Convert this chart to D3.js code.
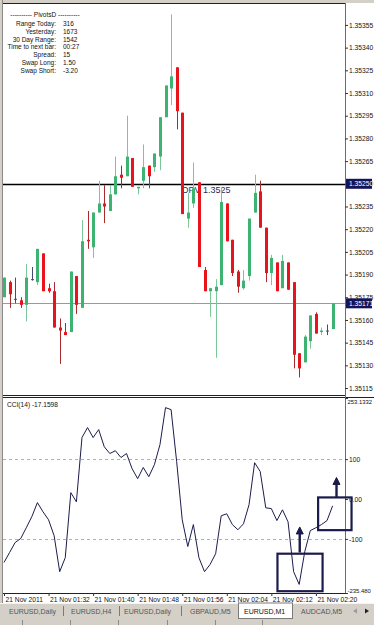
<!DOCTYPE html>
<html>
<head>
<meta charset="utf-8">
<title>EURUSD,M1</title>
<style>
  body { margin: 0; background: #d4d0c8; }
  svg { display: block; font-family: "Liberation Sans", Arial, sans-serif; }
  .axis path.domain { display: none; }
  .axis line { stroke: #333; }
  .axis text { fill: #111; }
</style>
<script src="https://d3js.org/d3.v7.min.js"></script>
</head>
<body>
<div id="chart"></div>
<script>
// EURUSD M1, 21 Nov 2011, one bar per minute from 01:24
const open = [1.35175,1.35185,1.35174,1.35173,1.35170,1.35187,1.35185,1.35204,1.35181,1.35179,
  1.35155,1.35152,1.35152,1.35189,1.35168,1.35213,1.35208,1.35231,1.35237,1.35232,
  1.35243,1.35256,1.35255,1.35267,1.35247,1.35252,1.35262,1.35261,1.35268,1.35294,
  1.35313,1.35327,1.35297,1.35227,1.35237,1.35251,1.35193,1.35179,1.35179,1.35183,
  1.35237,1.35213,1.35192,1.35181,1.35189,1.35231,1.35245,1.35221,1.35191,1.35198,
  1.35181,1.35198,1.35185,1.35138,1.35132,1.35146,1.35164,1.35152,1.35153,1.35154];
const high = [1.35188,1.35186,1.35188,1.35175,1.35197,1.35195,1.35207,1.35204,1.35184,1.35185,
  1.35161,1.35158,1.35192,1.35189,1.35226,1.35232,1.35231,1.35252,1.35249,1.35249,
  1.35268,1.35262,1.35295,1.35267,1.35248,1.35276,1.35262,1.35270,1.35294,1.35315,
  1.35362,1.35327,1.35297,1.35244,1.35264,1.35251,1.35195,1.35181,1.35187,1.35247,
  1.35237,1.35213,1.35193,1.35193,1.35227,1.35256,1.35252,1.35221,1.35203,1.35198,
  1.35203,1.35198,1.35185,1.35138,1.35150,1.35163,1.35165,1.35155,1.35157,1.35171];
const low = [1.35175,1.35168,1.35171,1.35168,1.35159,1.35186,1.35183,1.35179,1.35178,1.35155,
  1.35131,1.35150,1.35152,1.35164,1.35168,1.35207,1.35201,1.35231,1.35224,1.35232,
  1.35243,1.35247,1.35255,1.35248,1.35243,1.35247,1.35247,1.35258,1.35259,1.35294,
  1.35302,1.35286,1.35230,1.35221,1.35234,1.35195,1.35179,1.35162,1.35135,1.35183,
  1.35212,1.35189,1.35178,1.35180,1.35186,1.35231,1.35221,1.35185,1.35183,1.35179,
  1.35181,1.35180,1.35128,1.35122,1.35132,1.35141,1.35151,1.35150,1.35150,1.35154];
const close = [1.35188,1.35177,1.35174,1.35170,1.35188,1.35187,1.35207,1.35179,1.35179,1.35155,
  1.35153,1.35150,1.35192,1.35170,1.35212,1.35212,1.35231,1.35237,1.35235,1.35243,
  1.35255,1.35254,1.35268,1.35248,1.35248,1.35261,1.35255,1.35270,1.35294,1.35315,
  1.35321,1.35298,1.35230,1.35231,1.35247,1.35195,1.35179,1.35181,1.35182,1.35238,
  1.35212,1.35191,1.35182,1.35186,1.35227,1.35244,1.35221,1.35191,1.35201,1.35179,
  1.35199,1.35180,1.35137,1.35128,1.35149,1.35163,1.35151,1.35153,1.35153,1.35171];

const cci = [-159,-134,-109,-99,-72,-44,-9,-32,-52,-92,
  -182,-147,16,-7,154,179,154,174,131,114,
  121,104,114,76,51,79,56,86,136,229,
  224,94,-52,-119,-64,-147,-182,-164,-137,-42,
  -37,-64,-77,-62,-14,91,69,-22,-24,-54,
  -27,-57,-182,-214,-132,-79,-72,-64,-54,-17.1598];

const priceTicks = [1.35355,1.35340,1.35325,1.35310,1.35295,1.35280,1.35265,1.35250,1.35235,
  1.35220,1.35205,1.35190,1.35175,1.35160,1.35145,1.35130,1.35115];
const cciLevels = [100, -100];
const cciTicks = [253.1332, 100, 0, -100, -235.48];
const cciTickLabels = ["253.1332", "100", "0.00", "-100", "-235.480"];
const timeTickBars = [0, 8, 16, 24, 32, 40, 48, 56];
const timeLabels = ["21 Nov 2011","21 Nov 01:32","21 Nov 01:40","21 Nov 01:48",
  "21 Nov 01:56","21 Nov 02:04","21 Nov 02:12","21 Nov 02:20"];

const pivotLabels = ["Range  Today:","Yesterday:","30 Day Range:","Time to next bar:","Spread:","Swap  Long:","Swap  Short:"];
const pivotValues = ["316","1673","1542","00:27","15","1.50","-3.20"];
const dpv = 1.3525;
const bid = 1.35171;

const tabNames = ["EURUSD,Daily","EURUSD,H4","EURUSD,Daily","GBPAUD,M5","EURUSD,M1","AUDCAD,M5"];

const W = 374, H = 625;
const bull = "#3cb371", bear = "#e8141c", doji = "#4a4a70";
const ink = "#1c1c4c";

const svg = d3.select("#chart").append("svg").attr("width", W).attr("height", H);

// window frame
svg.append("rect").attr("width", W).attr("height", H).attr("fill", "#d4d0c8");
svg.append("rect").attr("x", 3).attr("y", 3).attr("width", 371).attr("height", 600).attr("fill", "#fff");
svg.append("line").attr("x1", 2.5).attr("x2", 2.5).attr("y1", 0).attr("y2", 603).attr("stroke", "#8a8a8a");

const x = d3.scaleLinear().domain([0, 59]).range([4, 332.6]);
const y = d3.scaleLinear().domain([1.351104, 1.353695]).range([395, 3]);
const yc = d3.scaleLinear().domain([-235.48, 253.1332]).range([593, 398]);

// panel borders
const frame = svg.append("g").attr("stroke", "#222").attr("fill", "none");
frame.append("line").attr("x1", 3).attr("x2", 345).attr("y1", 3.5).attr("y2", 3.5);
frame.append("line").attr("x1", 3).attr("x2", 345).attr("y1", 395.5).attr("y2", 395.5);
frame.append("line").attr("x1", 3).attr("x2", 374).attr("y1", 397.5).attr("y2", 397.5);
frame.append("line").attr("x1", 3).attr("x2", 345).attr("y1", 593.5).attr("y2", 593.5);
frame.append("line").attr("x1", 345.5).attr("x2", 345.5).attr("y1", 3).attr("y2", 594).attr("stroke", "#6a6a80");

// PivotsD info block
const info = svg.append("g").attr("font-size", 6.5).attr("fill", "#111");
info.append("text").attr("x", 45).attr("y", 17).attr("text-anchor", "middle")
  .text("---------- PivotsD ----------");
pivotLabels.forEach((t, i) => {
  info.append("text").attr("x", 56).attr("y", 26 + i * 7.8).attr("text-anchor", "end").text(t);
  info.append("text").attr("x", 63).attr("y", 26 + i * 7.8).text(pivotValues[i]);
});

// horizontal lines
svg.append("line").attr("x1", 3).attr("x2", 345).attr("y1", Math.round(y(bid)) + 0.5).attr("y2", Math.round(y(bid)) + 0.5)
  .attr("stroke", "#9a9a9a");
svg.append("line").attr("x1", 3).attr("x2", 345).attr("y1", Math.round(y(dpv)) + 0.5).attr("y2", Math.round(y(dpv)) + 0.5)
  .attr("stroke", "#000").attr("stroke-width", 1.3);
svg.append("text").attr("x", 182).attr("y", y(dpv) + 9).attr("font-size", 9).attr("fill", "#2a2a5a")
  .text("DPV  " + dpv.toFixed(4));

// candles
const bars = d3.range(open.length).map(i => ({ i, o: open[i], h: high[i], l: low[i], c: close[i] }));
const col = d => d.c > d.o ? bull : d.c < d.o ? bear : doji;
const wickCol = d => d.c > d.o ? "#7cc79a" : d.c < d.o ? "#a82a2a" : doji;

const candles = svg.append("g").selectAll("g").data(bars).join("g");
candles.append("line")
  .attr("x1", d => Math.round(x(d.i)) + 0.5).attr("x2", d => Math.round(x(d.i)) + 0.5)
  .attr("y1", d => y(d.h)).attr("y2", d => y(d.l))
  .attr("stroke", wickCol);
candles.append("rect")
  .attr("x", d => Math.round(x(d.i)) - 1)
  .attr("width", 3)
  .attr("y", d => y(Math.max(d.o, d.c)))
  .attr("height", d => Math.max(1, Math.abs(y(d.o) - y(d.c))))
  .attr("fill", col);

// price axis
svg.append("g").attr("class", "axis").attr("transform", "translate(345,0)")
  .call(d3.axisRight(y).tickValues(priceTicks).tickSize(3).tickPadding(1).tickFormat(d3.format(".5f")))
  .attr("font-size", 6.7).attr("font-family", null);

function priceBox(v) {
  const g = svg.append("g").attr("transform", `translate(346,${y(v)})`);
  g.append("rect").attr("x", 0).attr("y", -5).attr("width", 26).attr("height", 10).attr("fill", "#14145a");
  g.append("text").attr("x", 3).attr("y", 2.5).attr("font-size", 6.7).attr("fill", "#fff").text(v.toFixed(5));
}
priceBox(dpv);
priceBox(bid);

// CCI panel
svg.append("g").selectAll("line").data(cciLevels).join("line")
  .attr("x1", 3).attr("x2", 345)
  .attr("y1", d => Math.round(yc(d)) + 0.5).attr("y2", d => Math.round(yc(d)) + 0.5)
  .attr("stroke", "#b0b0b0").attr("stroke-dasharray", "3,3");

svg.append("path").datum(cci)
  .attr("fill", "none").attr("stroke", ink).attr("stroke-width", 1)
  .attr("d", d3.line().x((d, i) => x(i)).y(d => yc(d)));

svg.append("text").attr("x", 7).attr("y", 407).attr("font-size", 6.6).attr("fill", "#111")
  .text("CCI(14) " + cci[cci.length - 1].toFixed(4));

svg.append("g").attr("class", "axis").attr("transform", "translate(345,0)")
  .call(d3.axisRight(yc).tickValues(cciTicks).tickSize(3).tickPadding(1).tickFormat((d, i) => cciTickLabels[i]))
  .attr("font-size", 6.7).attr("font-family", null)
  .call(g => g.selectAll(".tick").filter(d => d === cciTicks[0]).select("text")
    .attr("dy", "0.9em").attr("font-size", 5.9).attr("x", 2.5))
  .call(g => g.selectAll(".tick").filter(d => d === cciTicks[4]).select("text")
    .attr("dy", "-0.1em").attr("font-size", 5.9).attr("x", 2.5));

// time axis
svg.append("g").attr("class", "axis").attr("transform", "translate(0,593)")
  .call(d3.axisBottom(x).tickValues(timeTickBars).tickSize(3).tickPadding(1).tickFormat((d, i) => timeLabels[i]))
  .attr("font-size", 6.7).attr("font-family", null)
  .call(g => g.selectAll("text").attr("text-anchor", "start").attr("dx", 1));

// hand-drawn annotations on the CCI panel
const boxes = [{ i0: 49.1, i1: 57.2, v0: -137, v1: -231 }, { i0: 56.4, i1: 62.4, v0: 4, v1: -78 }];
const arrows = [{ i: 53.1, from: -134, to: -70 }, { i: 59.7, from: 4, to: 54 }];
const notes = svg.append("g").attr("stroke", ink).attr("fill", "none");
notes.selectAll("rect").data(boxes).join("rect")
  .attr("x", d => x(d.i0)).attr("y", d => yc(d.v0))
  .attr("width", d => x(d.i1) - x(d.i0)).attr("height", d => yc(d.v1) - yc(d.v0))
  .attr("stroke-width", 2.2);
notes.selectAll("line").data(arrows).join("line")
  .attr("x1", d => x(d.i)).attr("x2", d => x(d.i))
  .attr("y1", d => yc(d.from)).attr("y2", d => yc(d.to) + 5)
  .attr("stroke-width", 2.4);
notes.selectAll("path").data(arrows).join("path")
  .attr("d", d => { const cx = x(d.i), t = yc(d.to); return `M${cx - 3.5},${t + 7}L${cx},${t}L${cx + 3.5},${t + 7}Z`; })
  .attr("fill", ink).attr("stroke-width", 1);

// chart tabs
const tabs = svg.append("g").attr("font-size", 7);
const tabX = [9, 71, 124, 190, 244, 301];
tabs.append("rect").attr("x", 0).attr("y", 603).attr("width", W).attr("height", 22).attr("fill", "#d4d0c8");
tabs.append("line").attr("x1", 0).attr("x2", W).attr("y1", 603.5).attr("y2", 603.5).attr("stroke", "#f4f4f4");
tabs.append("rect").attr("x", 238.5).attr("y", 603).attr("width", 54).attr("height", 15.5)
  .attr("fill", "#fff").attr("stroke", "#7a7a7a");
tabs.selectAll("line.sep").data([63.5, 119.5, 181.5]).join("line").attr("class", "sep")
  .attr("x1", d => d).attr("x2", d => d).attr("y1", 606).attr("y2", 616).attr("stroke", "#7a7a7a");
tabs.selectAll("text").data(tabNames).join("text")
  .attr("x", (d, i) => tabX[i]).attr("y", 614)
  .attr("fill", (d, i) => i === 4 ? "#111" : "#555").text(d => d);
tabs.append("path").attr("d", "M353,611L357,608.5L357,613.5Z").attr("fill", "#9a9a9a");
tabs.append("path").attr("d", "M369,611L365,608.5L365,613.5Z").attr("fill", "#222");
tabs.selectAll("line.stat").data([22, 70, 118, 167, 215, 262]).join("line").attr("class", "stat")
  .attr("x1", d => d + 0.5).attr("x2", d => d + 0.5).attr("y1", 620).attr("y2", 625).attr("stroke", "#8a8a8a");
</script>
</body>
</html>
